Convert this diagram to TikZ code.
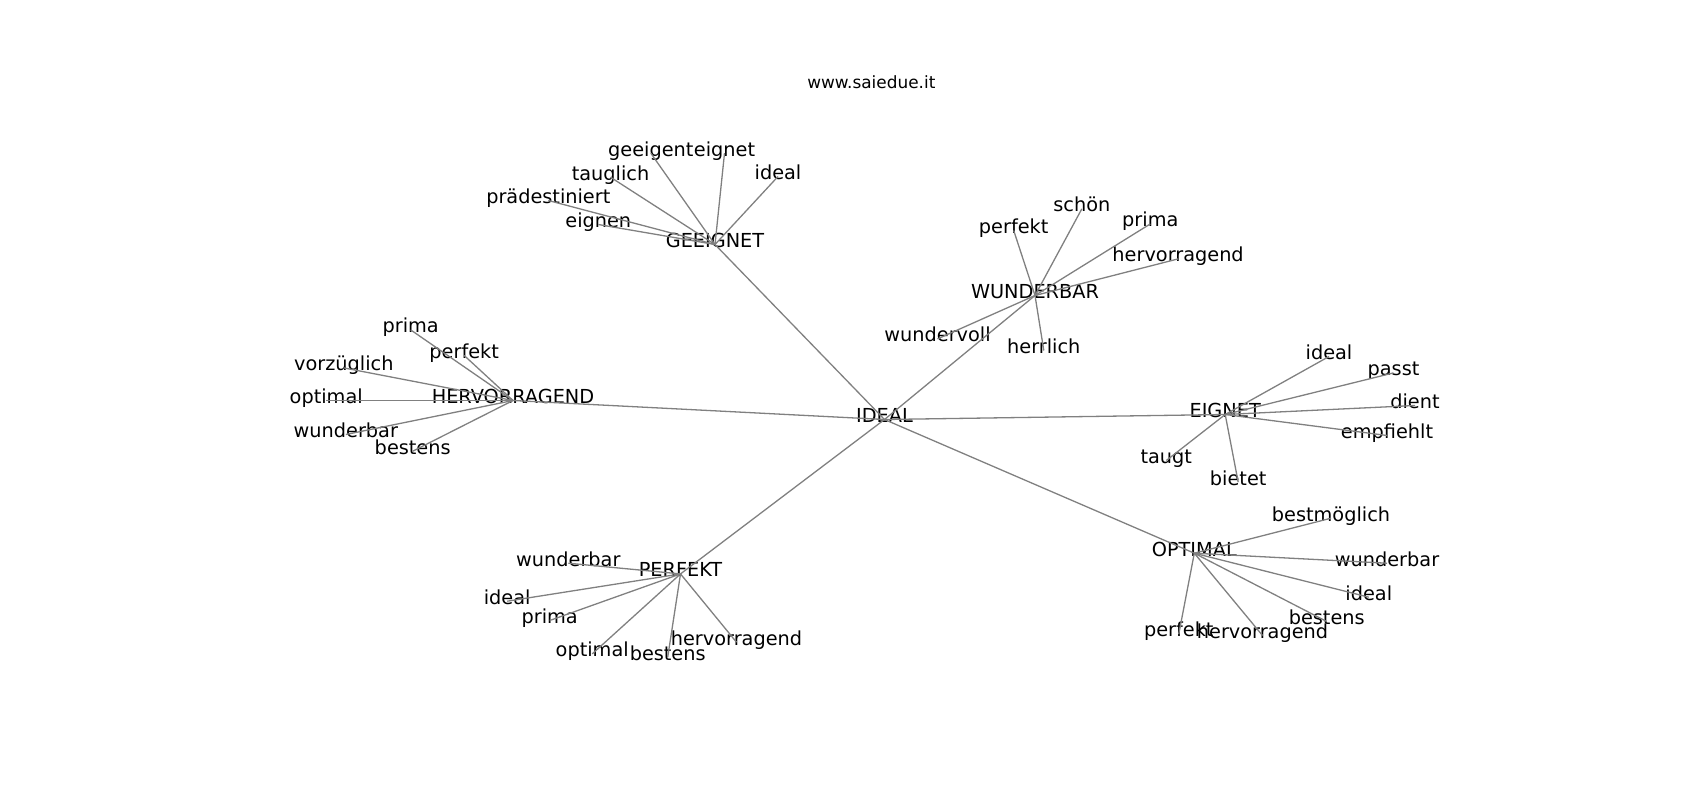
\documentclass[tikz,border=0pt]{standalone}
\usepackage{fontspec}
\setmainfont{DejaVu Sans}
\definecolor{edgegray}{HTML}{808080}
\tikzset{
  lbl/.style={anchor=base, inner sep=0pt, text height=0.76em, text depth=0.2em, font=\fontsize{19.3pt}{23pt}\selectfont},
  ttl/.style={anchor=base, inner sep=0pt, font=\fontsize{16.9pt}{20pt}\selectfont},
  edge/.style={draw=edgegray, line width=1.3pt}
}
\begin{document}
\begin{tikzpicture}[x=1pt, y=-1pt]
\useasboundingbox (0,0) rectangle (1700,800);
\node[ttl] (title) at (871.3,88.3) {www.saiedue.it};
% hubs
\node[lbl] (ideal) at (884.5,422.3) {IDEAL};
\node[lbl] (geeignet) at (715,247.3) {GEEIGNET};
\node[lbl] (wunderbar) at (1035,298.3) {WUNDERBAR};
\node[lbl] (hervorragend) at (513,403.3) {HERVORRAGEND};
\node[lbl] (eignet) at (1225.2,417.3) {EIGNET};
\node[lbl] (perfekt) at (680.5,576.7) {PERFEKT};
\node[lbl] (optimal) at (1194.3,556) {OPTIMAL};
% GEEIGNET leaves
\node[lbl] (g1) at (650.8,156) {geeigent};
\node[lbl] (g2) at (724.5,156) {eignet};
\node[lbl] (g3) at (610.5,180) {tauglich};
\node[lbl] (g4) at (778,179.3) {ideal};
\node[lbl] (g5) at (548.3,203.3) {prädestiniert};
\node[lbl] (g6) at (598.3,227.3) {eignen};
% WUNDERBAR leaves
\node[lbl] (w1) at (1081.8,211.7) {schön};
\node[lbl] (w2) at (1013.7,233.3) {perfekt};
\node[lbl] (w3) at (1150.3,226.7) {prima};
\node[lbl] (w4) at (1178.1,261.7) {hervorragend};
\node[lbl] (w5) at (937.5,341.7) {wundervoll};
\node[lbl] (w6) at (1043.8,353.3) {herrlich};
% HERVORRAGEND leaves
\node[lbl] (h1) at (410.7,332.7) {prima};
\node[lbl] (h2) at (464.2,358.3) {perfekt};
\node[lbl] (h3) at (343.8,370.7) {vorzüglich};
\node[lbl] (h4) at (326.2,403.3) {optimal};
\node[lbl] (h5) at (345.8,437.3) {wunderbar};
\node[lbl] (h6) at (412.7,454) {bestens};
% EIGNET leaves
\node[lbl] (e1) at (1329,359.3) {ideal};
\node[lbl] (e2) at (1393.5,375.7) {passt};
\node[lbl] (e3) at (1415,408.3) {dient};
\node[lbl] (e4) at (1387,438.3) {empfiehlt};
\node[lbl] (e5) at (1166.3,463.3) {taugt};
\node[lbl] (e6) at (1238.2,485) {bietet};
% PERFEKT leaves
\node[lbl] (p1) at (568.3,566) {wunderbar};
\node[lbl] (p2) at (507.2,604) {ideal};
\node[lbl] (p3) at (549.7,623.3) {prima};
\node[lbl] (p4) at (592.2,656.7) {optimal};
\node[lbl] (p5) at (667.7,660) {bestens};
\node[lbl] (p6) at (736.5,645) {hervorragend};
% OPTIMAL leaves
\node[lbl] (o1) at (1331,521) {bestmöglich};
\node[lbl] (o2) at (1387,566) {wunderbar};
\node[lbl] (o3) at (1368.8,600) {ideal};
\node[lbl] (o4) at (1326.7,624.3) {bestens};
\node[lbl] (o5) at (1178.8,636.7) {perfekt};
\node[lbl] (o6) at (1262.5,638.3) {hervorragend};
% edges
\foreach \h in {geeignet,wunderbar,hervorragend,eignet,perfekt,optimal}
  \draw[edge] (ideal.center) -- (\h.center);
\foreach \l in {g1,g2,g3,g4,g5,g6} \draw[edge] (geeignet.center) -- (\l.center);
\foreach \l in {w1,w2,w3,w4,w5,w6} \draw[edge] (wunderbar.center) -- (\l.center);
\foreach \l in {h1,h2,h3,h4,h5,h6} \draw[edge] (hervorragend.center) -- (\l.center);
\foreach \l in {e1,e2,e3,e4,e5,e6} \draw[edge] (eignet.center) -- (\l.center);
\foreach \l in {p1,p2,p3,p4,p5,p6} \draw[edge] (perfekt.center) -- (\l.center);
\foreach \l in {o1,o2,o3,o4,o5,o6} \draw[edge] (optimal.center) -- (\l.center);
\end{tikzpicture}
\end{document}
